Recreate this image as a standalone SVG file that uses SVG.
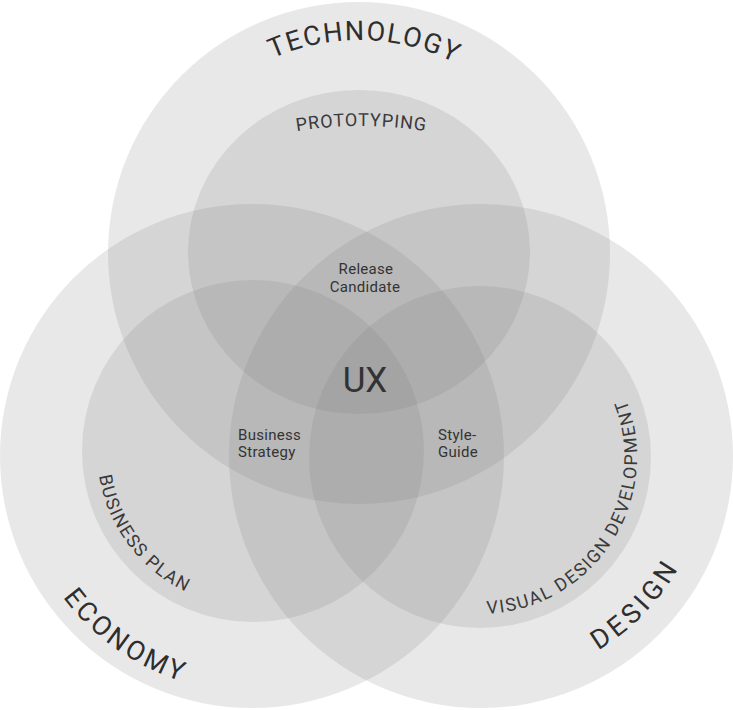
<svg xmlns="http://www.w3.org/2000/svg" width="733" height="710" viewBox="0 0 733 710">
  <style>
    .c { fill: #808080; fill-opacity: 0.18; }
    .t { font-family: Roboto, "Liberation Sans", sans-serif; fill: #2e2e2e; }
    .big { font-size: 27px; }
    .mid { font-size: 18px; fill: #3a3a3a; }
    .small { font-size: 15px; fill: #333; letter-spacing: 0.3px; }
    .ux { font-size: 35px; fill: #333; }
  </style>
  <defs>
    <path id="p-tech" d="M177.1,142.2 A213,213 0 0 1 545.9,150.9"/>
    <path id="p-proto" d="M224.2,150.1 A400,400 0 0 1 497.8,150.1"/>
    <path id="p-econ" d="M23.6,515.5 A236,236 0 0 0 270.9,691.2"/>
    <path id="p-bplan" d="M101.2,415.1 A156,156 0 0 0 244.0,606.7"/>
    <path id="p-vdd" d="M452.7,611.6 A157,157 0 0 0 610.2,369.2"/>
    <path id="p-design" d="M503.2,681.9 A227,227 0 0 0 707.3,473.4"/>
  </defs>

  <!-- circles -->
  <g id="technology"><circle class="c" cx="359" cy="253" r="251"/></g>
  <g id="economy"><circle class="c" cx="252" cy="456" r="252"/></g>
  <g id="design"><circle class="c" cx="481" cy="456" r="252"/></g>
  <g id="prototyping"><ellipse class="c" cx="359" cy="252" rx="171" ry="162"/></g>
  <g id="business-plan"><circle class="c" cx="253" cy="451" r="171"/></g>
  <g id="visual-design-development"><circle class="c" cx="480" cy="457" r="171"/></g>

  <!-- labels -->
  <g id="technology-label"><text class="t big" text-anchor="middle"><textPath href="#p-tech" startOffset="50%" textLength="188" lengthAdjust="spacing">TECHNOLOGY</textPath></text></g>
  <g id="economy-label"><text class="t big" text-anchor="middle"><textPath href="#p-econ" startOffset="50%" textLength="147" lengthAdjust="spacing">ECONOMY</textPath></text></g>
  <g id="design-label"><text class="t big" text-anchor="middle"><textPath href="#p-design" startOffset="50%" textLength="115" lengthAdjust="spacing">DESIGN</textPath></text></g>
  <g id="prototyping-label"><text class="t mid" text-anchor="middle"><textPath href="#p-proto" startOffset="50%" textLength="129" lengthAdjust="spacing">PROTOTYPING</textPath></text></g>
  <g id="business-plan-label"><text class="t mid" text-anchor="middle"><textPath href="#p-bplan" startOffset="50%" textLength="150" lengthAdjust="spacing">BUSINESS PLAN</textPath></text></g>
  <g id="visual-design-development-label"><text class="t mid" text-anchor="middle"><textPath href="#p-vdd" startOffset="50%" textLength="298" lengthAdjust="spacing">VISUAL DESIGN DEVELOPMENT</textPath></text></g>

  <g id="release-candidate">
    <text class="t small" text-anchor="middle" x="366" y="274">Release</text>
    <text class="t small" text-anchor="middle" x="365" y="292">Candidate</text>
  </g>
  <g id="ux"><text class="t ux" text-anchor="middle" x="365" y="392">UX</text></g>
  <g id="business-strategy">
    <text class="t small" x="238" y="440">Business</text>
    <text class="t small" x="238" y="457">Strategy</text>
  </g>
  <g id="style-guide">
    <text class="t small" x="438" y="440">Style-</text>
    <text class="t small" x="438" y="457">Guide</text>
  </g>
</svg>
